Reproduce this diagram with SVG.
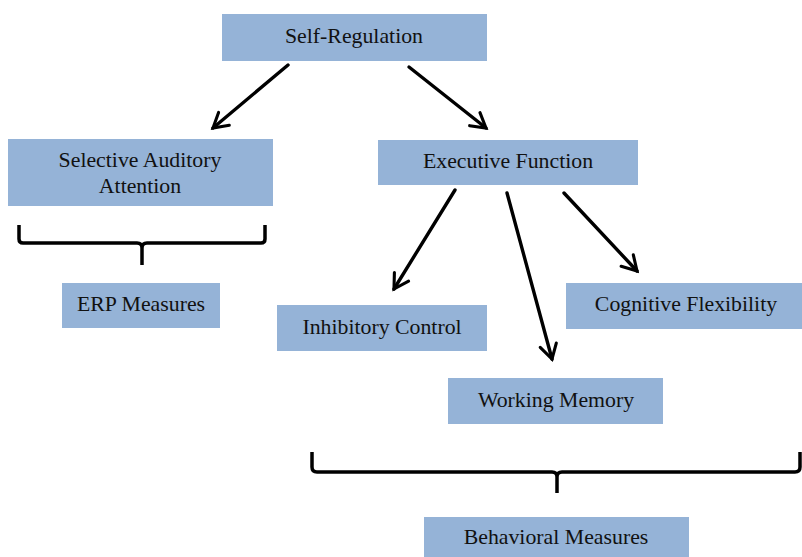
<svg xmlns="http://www.w3.org/2000/svg" width="802" height="557" viewBox="0 0 802 557">
<style>
.box{fill:#95b3d7;}
.t{font-family:"Liberation Serif","Times New Roman",serif;font-size:21.8px;fill:#111;text-anchor:middle;}
.c{stroke:#000;stroke-width:3.4;fill:none;stroke-linecap:round;}
.br{stroke:#000;stroke-width:3.5;fill:none;stroke-linejoin:round;}
</style>
<defs>
<marker id="ah" viewBox="0 0 20 20" refX="16" refY="10" markerWidth="7" markerHeight="7" markerUnits="strokeWidth" orient="auto">
<polyline points="4,3 16,10 4,17" fill="none" stroke="#000" stroke-width="2.6" stroke-linecap="round" stroke-linejoin="miter"/>
</marker>
</defs>
<rect width="802" height="557" fill="#fff"/>
<g id="self-regulation"><rect class="box" x="222" y="14" width="265" height="47"/><text class="t" x="354" y="43">Self-Regulation</text></g>
<g id="selective-auditory-attention"><rect class="box" x="8" y="139" width="265" height="67"/><text class="t" x="140" y="167">Selective Auditory</text><text class="t" x="140" y="193">Attention</text></g>
<g id="erp-measures"><rect class="box" x="62" y="283" width="158" height="45"/><text class="t" x="141" y="311">ERP Measures</text></g>
<g id="executive-function"><rect class="box" x="378" y="140" width="260" height="45"/><text class="t" x="508" y="168">Executive Function</text></g>
<g id="inhibitory-control"><rect class="box" x="277" y="305" width="210" height="46"/><text class="t" x="382" y="334">Inhibitory Control</text></g>
<g id="cognitive-flexibility"><rect class="box" x="566" y="283" width="236" height="46"/><text class="t" x="686" y="311">Cognitive Flexibility</text></g>
<g id="working-memory"><rect class="box" x="448" y="378" width="215" height="46"/><text class="t" x="556" y="407">Working Memory</text></g>
<g id="behavioral-measures"><rect class="box" x="424" y="517" width="265" height="40"/><text class="t" x="556" y="544">Behavioral Measures</text></g>
<g id="connectors">
<line class="c" x1="288" y1="65" x2="213" y2="128" marker-end="url(#ah)"/>
<line class="c" x1="409" y1="67" x2="486" y2="128" marker-end="url(#ah)"/>
<line class="c" x1="455" y1="190" x2="394" y2="289" marker-end="url(#ah)"/>
<line class="c" x1="507" y1="193" x2="552" y2="359" marker-end="url(#ah)"/>
<line class="c" x1="564" y1="193" x2="637" y2="271" marker-end="url(#ah)"/>
<path class="br" d="M19,225 V239 Q19,243 23,243 H137 Q142,243 142,248 V265 M142,248 Q142,243 147,243 H261 Q265,243 265,239 V225"/>
<path class="br" d="M312,452 V467 Q312,472 317,472 H552 Q557,472 557,477 V493 M557,477 Q557,472 562,472 H795 Q800,472 800,467 V452"/>
</g>
</svg>
